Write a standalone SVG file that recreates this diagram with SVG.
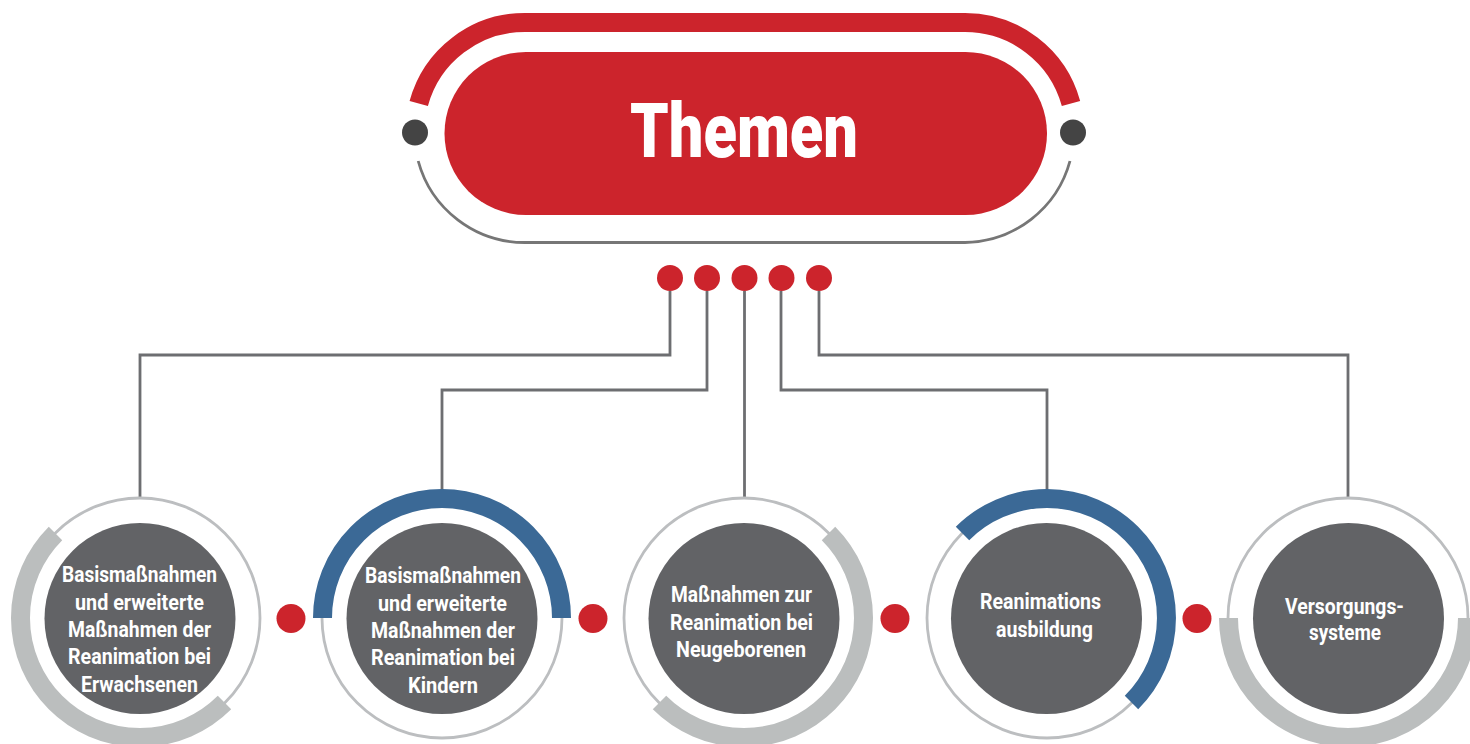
<svg xmlns="http://www.w3.org/2000/svg" width="1470" height="744" viewBox="0 0 1470 744">
<style>
.red{fill:#cc242c}
.dk{fill:#444444}
.disc{fill:#626366}
.ring{fill:none;stroke:#bcbec0;stroke-width:2.8}
.arc{fill:none;stroke-width:19}
.g{stroke:#bbbebe}
.b{stroke:#3b6996}
.conn{fill:none;stroke:#6d6e71;stroke-width:2.8}
text{font-family:"Roboto","Liberation Sans",sans-serif;font-weight:900;fill:#ffffff;text-anchor:start}
.t{font-size:22.500px;font-weight:700}
</style>
<rect width="1470" height="744" fill="#ffffff"/>
<g id="connectors">
<path class="conn" d="M670 291V355H140V498"/>
<path class="conn" d="M707 291V390H442V490"/>
<path class="conn" d="M744.500 291V498"/>
<path class="conn" d="M781 291V390H1047V490"/>
<path class="conn" d="M819 291V355H1348V498"/>
</g>
<g id="themen">
<path fill="none" stroke="#cc242c" stroke-width="19" d="M418.750 103.500A110 110 0 0 1 525 22.500H965A110 110 0 0 1 1071 103.500"/>
<path fill="none" stroke="#767676" stroke-width="2.800" d="M418.200 161A110.500 110.500 0 0 0 525 242.500H965A110.500 110.500 0 0 0 1070 161"/>
<rect class="red" x="444.500" y="52" width="602.500" height="163" rx="81.500"/>
<circle class="dk" cx="415" cy="132.500" r="13"/>
<circle class="dk" cx="1073" cy="132.500" r="13"/>
<text x="630" y="157" font-size="76" textLength="228" lengthAdjust="spacingAndGlyphs">Themen</text>
</g>
<g id="top-dots">
<circle class="red" cx="670" cy="278" r="13"/>
<circle class="red" cx="707" cy="278" r="13"/>
<circle class="red" cx="744.500" cy="278" r="13"/>
<circle class="red" cx="781.500" cy="278" r="13"/>
<circle class="red" cx="819" cy="278" r="13"/>
</g>
<g id="link-dots">
<circle class="red" cx="291" cy="618.500" r="14.500"/>
<circle class="red" cx="593" cy="618.500" r="14.500"/>
<circle class="red" cx="895" cy="618.500" r="14.500"/>
<circle class="red" cx="1197" cy="618.500" r="14.500"/>
</g>
<g id="node-1">
<circle class="ring" cx="140" cy="618" r="120"/>
<path class="arc g" d="M55.500 533.500A119.500 119.500 0 0 0 224.500 702.500"/>
<circle class="disc" cx="140" cy="618.500" r="95.500"/>
<text class="t" x="62" y="582" textLength="155" lengthAdjust="spacingAndGlyphs">Basismaßnahmen</text>
<text class="t" x="75" y="610" textLength="129" lengthAdjust="spacingAndGlyphs">und erweiterte</text>
<text class="t" x="68" y="637" textLength="143" lengthAdjust="spacingAndGlyphs">Maßnahmen der</text>
<text class="t" x="68" y="664" textLength="143" lengthAdjust="spacingAndGlyphs">Reanimation bei</text>
<text class="t" x="81" y="692" textLength="117" lengthAdjust="spacingAndGlyphs">Erwachsenen</text>
</g>
<g id="node-2">
<circle class="ring" cx="442" cy="618" r="120"/>
<path class="arc b" d="M322.500 618A119.500 119.500 0 0 1 561.500 618"/>
<circle class="disc" cx="442" cy="618.500" r="95.500"/>
<text class="t" x="365" y="583" textLength="156" lengthAdjust="spacingAndGlyphs">Basismaßnahmen</text>
<text class="t" x="378" y="611" textLength="129" lengthAdjust="spacingAndGlyphs">und erweiterte</text>
<text class="t" x="371" y="638" textLength="144" lengthAdjust="spacingAndGlyphs">Maßnahmen der</text>
<text class="t" x="371" y="665" textLength="144" lengthAdjust="spacingAndGlyphs">Reanimation bei</text>
<text class="t" x="408" y="693" textLength="70" lengthAdjust="spacingAndGlyphs">Kindern</text>
</g>
<g id="node-3">
<circle class="ring" cx="744" cy="618" r="120"/>
<path class="arc g" d="M828.500 533.500A119.500 119.500 0 0 1 659.500 702.500"/>
<circle class="disc" cx="744" cy="618.500" r="95.500"/>
<text class="t" x="671" y="602" textLength="141" lengthAdjust="spacingAndGlyphs">Maßnahmen zur</text>
<text class="t" x="670" y="630" textLength="143" lengthAdjust="spacingAndGlyphs">Reanimation bei</text>
<text class="t" x="676" y="657" textLength="130" lengthAdjust="spacingAndGlyphs">Neugeborenen</text>
</g>
<g id="node-4">
<circle class="ring" cx="1047" cy="618" r="120"/>
<path class="arc b" d="M962.500 533.500A119.500 119.500 0 0 1 1131.500 702.500"/>
<circle class="disc" cx="1046.500" cy="618.500" r="95.500"/>
<text class="t" x="980" y="609" textLength="121" lengthAdjust="spacingAndGlyphs">Reanimations</text>
<text class="t" x="996" y="637" textLength="97" lengthAdjust="spacingAndGlyphs">ausbildung</text>
</g>
<g id="node-5">
<circle class="ring" cx="1348" cy="618" r="120"/>
<path class="arc g" d="M1228.500 618A119.500 119.500 0 0 0 1467.500 618"/>
<circle class="disc" cx="1348.500" cy="618.500" r="95.500"/>
<text class="t" x="1285" y="614" textLength="119" lengthAdjust="spacingAndGlyphs">Versorgungs-</text>
<text class="t" x="1309" y="640" textLength="72" lengthAdjust="spacingAndGlyphs">systeme</text>
</g>
</svg>
